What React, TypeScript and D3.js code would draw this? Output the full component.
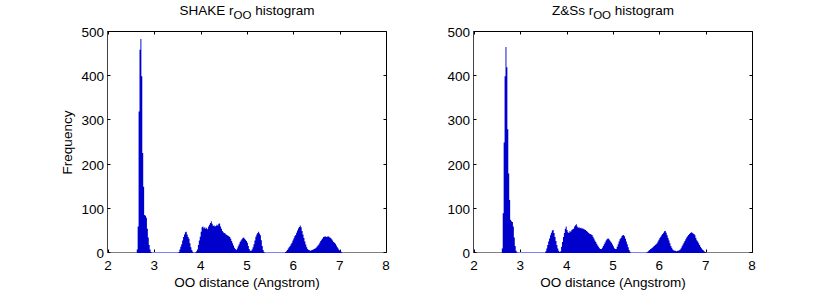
import React from "react";
import * as d3 from "d3";

// histogram bins: left edge of first bin and bin width (Angstrom)
const binStart = 2.6;
const binWidth = 0.02;

// SHAKE r_OO counts, one row per 0.2 Angstrom
const shakeCounts = [
  0, 8, 60, 320, 460, 484, 400, 226, 150, 86,
  84, 80, 55, 35, 18, 8, 2, 0, 0, 0,
  0, 0, 0, 0, 0, 0, 0, 0, 0, 0,
  0, 0, 0, 0, 0, 0, 0, 0, 0, 0,
  0, 0, 0, 0, 0, 0, 2, 8, 14, 20,
  28, 36, 42, 47, 48, 42, 36, 32, 22, 13,
  7, 3, 0, 0, 1, 4, 8, 18, 28, 37,
  48, 58, 60, 56, 58, 55, 57, 54, 60, 64,
  68, 72, 66, 61, 63, 60, 61, 64, 62, 66,
  67, 60, 55, 50, 47, 45, 44, 42, 41, 39,
  38, 36, 32, 27, 22, 17, 12, 9, 7, 10,
  15, 20, 25, 28, 31, 34, 35, 32, 30, 27,
  23, 16, 9, 5, 5, 8, 13, 20, 28, 37,
  42, 45, 48, 44, 40, 29, 16, 7, 2, 0,
  0, 0, 0, 0, 0, 0, 0, 0, 0, 0,
  0, 0, 0, 0, 0, 0, 0, 0, 0, 0,
  0, 2, 4, 7, 10, 13, 16, 20, 23, 28,
  33, 38, 41, 46, 51, 56, 59, 62, 58, 50,
  42, 34, 26, 19, 13, 9, 7, 6, 5, 6,
  7, 8, 9, 10, 12, 14, 17, 19, 23, 27,
  30, 33, 36, 37, 38, 36, 37, 38, 37, 35,
  34, 31, 28, 25, 23, 21, 17, 13, 10, 7,
  5, 3, 1, 0, 0,
];

// Z&Ss r_OO counts
const zssCounts = [
  10, 90, 250, 400, 466, 420, 280, 180, 120, 75,
  72, 70, 60, 35, 16, 5, 1, 0, 0, 0,
  0, 0, 0, 0, 0, 0, 0, 0, 0, 0,
  0, 0, 0, 0, 0, 0, 0, 0, 0, 0,
  0, 0, 0, 0, 0, 0, 0, 4, 10, 18,
  26, 33, 40, 46, 51, 52, 45, 36, 27, 18,
  10, 5, 2, 4, 14, 25, 36, 45, 55, 60,
  52, 47, 45, 50, 48, 52, 54, 55, 60, 63,
  65, 60, 57, 58, 56, 57, 55, 56, 54, 53,
  52, 50, 48, 46, 44, 43, 42, 41, 37, 33,
  28, 25, 21, 17, 14, 11, 9, 9, 12, 16,
  20, 24, 28, 31, 33, 32, 29, 26, 23, 19,
  15, 11, 9, 9, 14, 20, 26, 31, 34, 38,
  40, 41, 38, 32, 26, 20, 13, 7, 3, 0,
  0, 0, 0, 0, 0, 0, 0, 0, 0, 0,
  0, 0, 0, 0, 0, 0, 1, 3, 5, 7,
  9, 10, 12, 14, 16, 18, 20, 22, 26, 30,
  34, 37, 40, 43, 46, 49, 50, 46, 40, 34,
  28, 22, 16, 12, 8, 6, 5, 5, 4, 5,
  5, 6, 8, 11, 15, 19, 23, 27, 31, 35,
  38, 41, 43, 45, 47, 46, 44, 43, 40, 34,
  29, 26, 22, 18, 14, 11, 8, 6, 4, 2,
  1,
];

const xTicks = [2, 3, 4, 5, 6, 7, 8];
const yTicks = [0, 100, 200, 300, 400, 500];

const font = "'Liberation Sans', Arial, Helvetica, sans-serif";
const fs = 13.5;
const top = 32;
const bottom = 253;

const Panel = ({ left, counts, name, showYLabel }: { left: number; counts: number[]; name: string; showYLabel: boolean }) => {
  const right = left + 278;
  const x = d3.scaleLinear().domain([2, 8]).range([left, right]);
  const y = d3.scaleLinear().domain([0, 500]).range([bottom, top]);

  const pts = counts.map((v, i) => ({ e: binStart + i * binWidth, v }));
  pts.push({ e: binStart + counts.length * binWidth, v: counts[counts.length - 1] });

  const area = d3
    .area<{ e: number; v: number }>()
    .x((d) => x(d.e))
    .y0(y(0))
    .y1((d) => y(d.v))
    .curve(d3.curveStepAfter);

  const cx = (left + right) / 2;
  const px = (v: number) => Math.round(x(v)) + 0.5;
  const py = (v: number) => Math.round(y(v)) - 0.5;

  return (
    <g>
      {/* axes box */}
      <line x1={left - 0.5} x2={right + 0.5} y1={top - 0.5} y2={top - 0.5} stroke="#000" />
      <line x1={right + 0.5} x2={right + 0.5} y1={top - 0.5} y2={bottom - 0.5} stroke="#000" />
      <line x1={left - 0.5} x2={left - 0.5} y1={top - 0.5} y2={bottom - 0.5} stroke="#444" />
      <line x1={left - 0.5} x2={right + 0.5} y1={bottom - 0.5} y2={bottom - 0.5} stroke="#808080" />

      {xTicks.map((t) => (
        <g key={"x" + t}>
          <line x1={px(t)} x2={px(t)} y1={bottom - 0.5} y2={bottom - 3.5} stroke="#000" />
          <line x1={px(t)} x2={px(t)} y1={top - 0.5} y2={top + 2.5} stroke="#000" />
          <text x={x(t)} y={270} textAnchor="middle" fontSize={fs} fontFamily={font}>
            {t}
          </text>
        </g>
      ))}
      {yTicks.map((t) => (
        <g key={"y" + t}>
          <line x1={left - 0.5} x2={left + 2.5} y1={py(t)} y2={py(t)} stroke="#000" />
          <line x1={right + 0.5} x2={right - 2.5} y1={py(t)} y2={py(t)} stroke="#000" />
          <text x={left - 4} y={y(t) + 5} textAnchor="end" fontSize={fs} fontFamily={font}>
            {t}
          </text>
        </g>
      ))}

      {/* histogram */}
      <line
        x1={x(binStart)}
        x2={x(binStart + counts.length * binWidth)}
        y1={bottom - 0.5}
        y2={bottom - 0.5}
        stroke="#7f7fff"
      />
      <path d={area(pts) ?? ""} fill="#0000cc" />

      <text x={cx} y={15} textAnchor="middle" fontSize={fs} fontFamily={font}>
        {name} r
        <tspan dy={4} fontSize={11.5}>
          OO
        </tspan>
        <tspan dy={-4}> histogram</tspan>
      </text>
      <text x={cx} y={287} textAnchor="middle" fontSize={fs} fontFamily={font}>
        OO distance (Angstrom)
      </text>
      {showYLabel && (
        <text
          transform={`translate(72, ${(top + bottom) / 2}) rotate(-90)`}
          textAnchor="middle"
          fontSize={fs}
          fontFamily={font}
        >
          Frequency
        </text>
      )}
    </g>
  );
};

export default function App() {
  return (
    <svg width={830} height={296} style={{ display: "block", position: "absolute", left: 0, top: 0, background: "#fff" }}>
      <rect width={830} height={296} fill="#fff" />
      <Panel left={108} counts={shakeCounts} name="SHAKE" showYLabel={true} />
      <Panel left={474} counts={zssCounts} name="Z&Ss" showYLabel={false} />
    </svg>
  );
}
